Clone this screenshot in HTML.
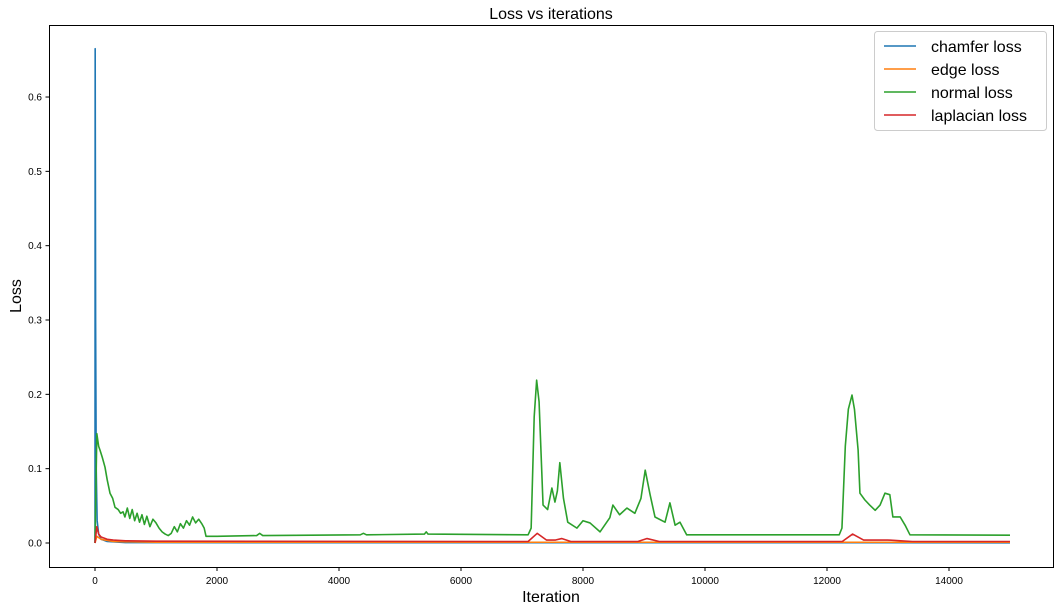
<!DOCTYPE html>
<html><head><meta charset="utf-8"><style>
body{margin:0;background:#fff;font-family:"Liberation Sans",sans-serif}
svg text{font-family:"Liberation Sans",sans-serif}
</style></head><body>
<svg id="chart" width="1060" height="611">
<rect width="1060" height="611" fill="#fff"/>
<text x="551" y="19" font-size="16" text-anchor="middle">Loss vs iterations</text>
<text x="551" y="602" font-size="16" text-anchor="middle">Iteration</text>
<text x="21" y="296" font-size="16" text-anchor="middle" transform="rotate(-90 21 296)">Loss</text>
<g id="ticks"></g>
<g id="plot"></g>
<rect x="49.5" y="25.5" width="1004" height="542" fill="none" stroke="#000" stroke-width="1"/>
<g id="legend"></g>
</svg>
<script>
const xTicks=[0,2000,4000,6000,8000,10000,12000,14000];
const yTicks=[0.0,0.1,0.2,0.3,0.4,0.5,0.6];
const seriesNames=["chamfer loss","edge loss","normal loss","laplacian loss"];
const chamferX=[0,3,10,20,35,60,100,200,500,15000];
const chamferY=[0,0.665,0.3,0.1,0.03,0.012,0.005,0.002,0.0005,0.0003];
const edgeX=[0,30,100,300,1000,15000];
const edgeY=[0,0.009,0.005,0.002,0.001,0.001];
const normalX=[0,30,60,82,120,164,200,246,290,328,380,420,460,490,530,570,610,650,690,730,770,810,850,900,950,1000,1050,1100,1150,1200,1250,1300,1350,1400,1450,1500,1550,1600,1650,1700,1750,1790,1820,2000,2650,2700,2750,4350,4400,4450,5400,5430,5460,7100,7150,7200,7240,7280,7345,7420,7490,7540,7580,7620,7680,7750,7900,8000,8115,8280,8440,8490,8600,8720,8850,8950,9020,9100,9180,9345,9425,9510,9590,9700,12200,12245,12300,12350,12410,12450,12510,12540,12620,12700,12790,12870,12950,13030,13080,13200,13280,13360,15000];
const normalY=[0,0.147,0.13,0.125,0.115,0.102,0.085,0.067,0.06,0.048,0.045,0.04,0.042,0.035,0.047,0.033,0.045,0.03,0.04,0.028,0.038,0.025,0.036,0.022,0.032,0.027,0.02,0.015,0.012,0.01,0.013,0.022,0.015,0.026,0.02,0.03,0.024,0.035,0.027,0.032,0.026,0.02,0.009,0.009,0.01,0.013,0.01,0.011,0.013,0.011,0.012,0.015,0.012,0.011,0.02,0.17,0.219,0.19,0.051,0.045,0.074,0.055,0.07,0.108,0.06,0.028,0.02,0.03,0.027,0.015,0.034,0.051,0.038,0.047,0.04,0.06,0.098,0.065,0.035,0.028,0.054,0.024,0.028,0.011,0.011,0.02,0.13,0.18,0.199,0.18,0.125,0.067,0.058,0.051,0.044,0.051,0.067,0.065,0.035,0.035,0.024,0.011,0.0105];
const laplacianX=[0,30,60,100,200,300,500,1000,7100,7250,7400,7550,7650,7800,8900,9050,9250,12250,12420,12600,13000,13400,15000];
const laplacianY=[0,0.022,0.012,0.008,0.005,0.004,0.003,0.0025,0.002,0.013,0.004,0.004,0.006,0.002,0.002,0.006,0.002,0.002,0.012,0.004,0.004,0.002,0.002];
const colors=["#1f77b4","#ff7f0e","#2ca02c","#d62728"];
const xs=v=>95+v*0.061;
const ys=v=>543-v*743.3;
const NS="http://www.w3.org/2000/svg";
const tk=document.getElementById('ticks');
xTicks.forEach(t=>{
 const l=document.createElementNS(NS,'line');
 l.setAttribute('x1',xs(t));l.setAttribute('x2',xs(t));l.setAttribute('y1',567.5);l.setAttribute('y2',571);l.setAttribute('stroke','#000');
 
 
 tk.appendChild(l);
 const tx=document.createElementNS(NS,'text');
 tx.setAttribute('x',xs(t));tx.setAttribute('y',584);tx.setAttribute('font-size','10');tx.setAttribute('text-anchor','middle');
 tx.textContent=t;
 
 
 tk.appendChild(tx);
});
yTicks.forEach(t=>{
 const l=document.createElementNS(NS,'line');
 l.setAttribute('x1',45.5);l.setAttribute('x2',49.5);l.setAttribute('y1',ys(t));l.setAttribute('y2',ys(t));l.setAttribute('stroke','#000');
 
 
 tk.appendChild(l);
 const tx=document.createElementNS(NS,'text');
 tx.setAttribute('x',42);tx.setAttribute('y',ys(t)+3.5);tx.setAttribute('font-size','10');tx.setAttribute('text-anchor','end');
 tx.textContent=t.toFixed(1);
 
 
 tk.appendChild(tx);
});
const plot=document.getElementById('plot');
const data=[[chamferX,chamferY],[edgeX,edgeY],[normalX,normalY],[laplacianX,laplacianY]];
[0,1,2,3].forEach(i=>{
 const [X,Y]=data[i];
 const p=document.createElementNS(NS,'polyline');
 p.setAttribute('points',X.map((x,k)=>xs(x).toFixed(2)+','+ys(Y[k]).toFixed(2)).join(' '));
 p.setAttribute('fill','none');p.setAttribute('stroke',colors[i]);p.setAttribute('stroke-width','1.6');p.setAttribute('stroke-linejoin','round');
 
 
 plot.appendChild(p);
});
const lg=document.getElementById('legend');
const box=document.createElementNS(NS,'rect');
box.setAttribute('x',874.5);box.setAttribute('y',31.5);box.setAttribute('width',172);box.setAttribute('height',99);box.setAttribute('rx',3);
box.setAttribute('fill','#fff');box.setAttribute('fill-opacity','0.8');box.setAttribute('stroke','#ccc');


lg.appendChild(box);
seriesNames.forEach((n,i)=>{
 const y=46+i*23;
 const l=document.createElementNS(NS,'line');
 l.setAttribute('x1',884);l.setAttribute('x2',916);l.setAttribute('y1',y);l.setAttribute('y2',y);l.setAttribute('stroke',colors[i]);l.setAttribute('stroke-width','1.6');
 
 
 lg.appendChild(l);
 const t=document.createElementNS(NS,'text');
 t.setAttribute('x',931);t.setAttribute('y',y+6);t.setAttribute('font-size','16');
 t.textContent=n;
 
 
 lg.appendChild(t);
});
</script>
</body></html>
